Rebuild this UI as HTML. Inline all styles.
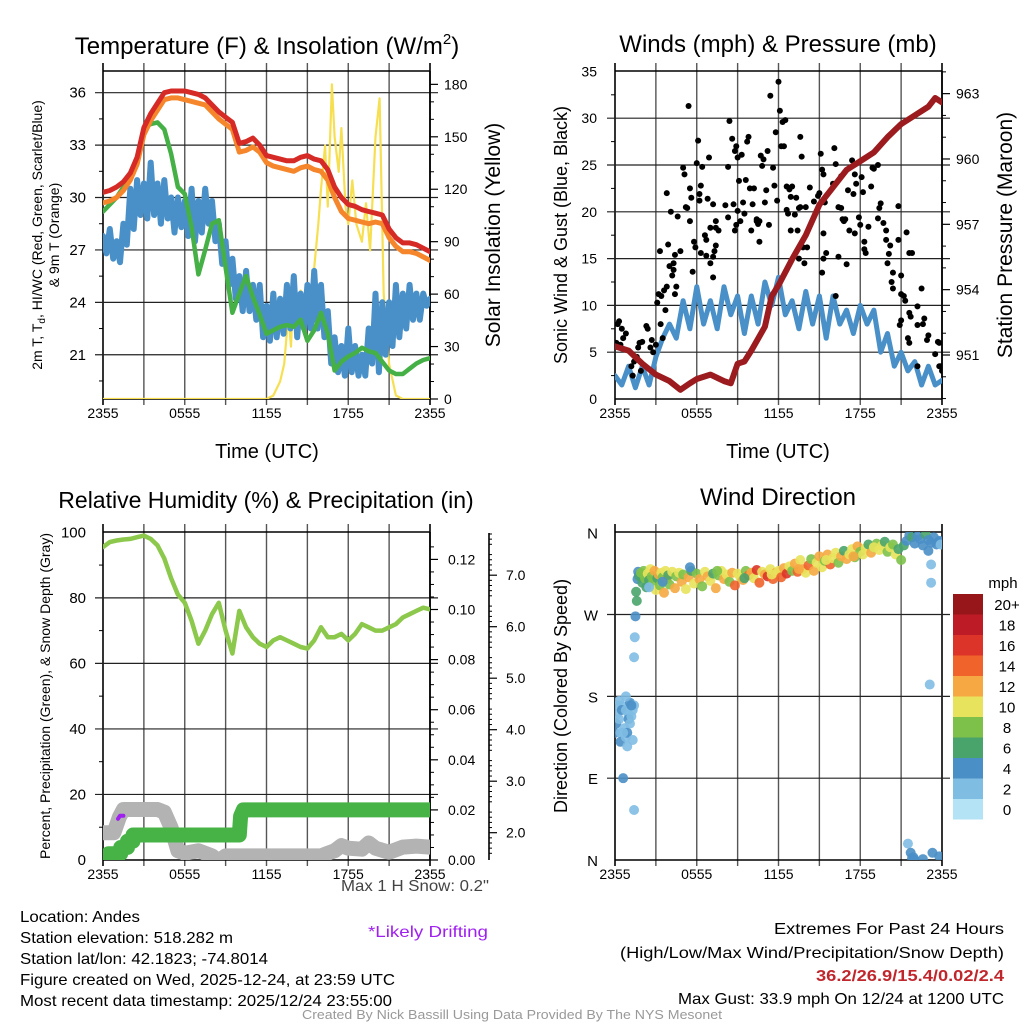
<!DOCTYPE html>
<html><head><meta charset="utf-8"><style>
html,body{margin:0;padding:0;background:#fff}
svg{display:block;font-family:"Liberation Sans",sans-serif}
</style></head><body>
<svg id="fig" xmlns="http://www.w3.org/2000/svg" width="1024" height="1024" viewBox="0 0 1024 1024">
<defs>
<clipPath id="c1"><rect x="103" y="71" width="327" height="328"/></clipPath>
<clipPath id="c2"><rect x="615" y="71" width="327" height="328"/></clipPath>
<clipPath id="c3"><rect x="103" y="532" width="327" height="328"/></clipPath>
<clipPath id="c4"><rect x="615" y="532" width="327" height="328"/></clipPath>
</defs>
<g id="layer"></g>
<g font-size="24" fill="#000" text-anchor="middle">
<text x="267" y="54">Temperature (F) &amp; Insolation (W/m<tspan font-size="15" dy="-10">2</tspan><tspan dy="10">)</tspan></text>
<text x="778" y="52">Winds (mph) &amp; Pressure (mb)</text>
<text x="266" y="508" font-size="23">Relative Humidity (%) &amp; Precipitation (in)</text>
<text x="778" y="505">Wind Direction</text>
</g>
<g font-size="20" text-anchor="middle">
<text x="267" y="458">Time (UTC)</text>
<text x="778" y="458">Time (UTC)</text>
<text font-size="14" transform="translate(42,235) rotate(-90)">2m T, T<tspan font-size="10" dy="3">d</tspan><tspan dy="-3">, HI/WC (Red, Green, Scarlet/Blue)</tspan></text>
<text font-size="14" transform="translate(59,235) rotate(-90)">&amp; 9m T (Orange)</text>
<text font-size="21" transform="translate(500,235) rotate(-90)">Solar Insolation (Yellow)</text>
<text font-size="18" transform="translate(567,235) rotate(-90)">Sonic Wind &amp; Gust (Blue, Black)</text>
<text font-size="21" transform="translate(1012,235) rotate(-90)">Station Pressure (Maroon)</text>
<text font-size="14" transform="translate(50,696) rotate(-90)">Percent, Precipitation (Green), &amp; Snow Depth (Gray)</text>
<text font-size="18" transform="translate(567,696) rotate(-90)">Direction (Colored By Speed)</text>
</g>
<g font-size="16">
<text x="20" y="922" textLength="120" lengthAdjust="spacingAndGlyphs">Location: Andes</text>
<text x="20" y="943" textLength="213" lengthAdjust="spacingAndGlyphs">Station elevation: 518.282 m</text>
<text x="20" y="964" textLength="248" lengthAdjust="spacingAndGlyphs">Station lat/lon: 42.1823; -74.8014</text>
<text x="20" y="985" textLength="375" lengthAdjust="spacingAndGlyphs">Figure created on Wed, 2025-12-24, at 23:59 UTC</text>
<text x="20" y="1006" textLength="372" lengthAdjust="spacingAndGlyphs">Most recent data timestamp: 2025/12/24 23:55:00</text>
<text x="341" y="891" fill="#444" textLength="148" lengthAdjust="spacingAndGlyphs">Max 1 H Snow: 0.2"</text>
<text x="368" y="937" fill="#a020f0" textLength="120" lengthAdjust="spacingAndGlyphs">*Likely Drifting</text>
<text x="774" y="934" textLength="230" lengthAdjust="spacingAndGlyphs">Extremes For Past 24 Hours</text>
<text x="620" y="958" textLength="384" lengthAdjust="spacingAndGlyphs">(High/Low/Max Wind/Precipitation/Snow Depth)</text>
<text x="816" y="981" fill="#c0272d" font-weight="bold" textLength="188" lengthAdjust="spacingAndGlyphs">36.2/26.9/15.4/0.02/2.4</text>
<text x="678" y="1004" textLength="326" lengthAdjust="spacingAndGlyphs">Max Gust: 33.9 mph On 12/24 at 1200 UTC</text>
<text x="302" y="1019" font-size="13" fill="#999" textLength="420" lengthAdjust="spacingAndGlyphs">Created By Nick Bassill Using Data Provided By The NYS Mesonet</text>
</g>
</svg>
<script>
// ---------- data ----------
const xTickLabels = ["2355","0555","1155","1755","2355"];
const tHours = [0,0.5,1,1.5,2,2.5,3,3.5,4,4.5,5,5.5,6,6.5,7,7.5,8,8.5,9,9.5,10,10.5,11,11.5,12,12.5,13,13.5,14,14.5,15,15.5,16,16.5,17,17.5,18,18.5,19,19.5,20,20.5,21,21.5,22,22.5,23,23.5,24];
const qHours = [0,0.25,0.5,0.75,1,1.25,1.5,1.75,2,2.25,2.5,2.75,3,3.25,3.5,3.75,4,4.25,4.5,4.75,5,5.25,5.5,5.75,6,6.25,6.5,6.75,7,7.25,7.5,7.75,8,8.25,8.5,8.75,9,9.25,9.5,9.75,10,10.25,10.5,10.75,11,11.25,11.5,11.75,12,12.25,12.5,12.75,13,13.25,13.5,13.75,14,14.25,14.5,14.75,15,15.25,15.5,15.75,16,16.25,16.5,16.75,17,17.25,17.5,17.75,18,18.25,18.5,18.75,19,19.25,19.5,19.75,20,20.25,20.5,20.75,21,21.25,21.5,21.75,22,22.25,22.5,22.75,23,23.25,23.5,23.75,24];
const tempRed = [30.3,30.4,30.6,30.9,31.4,32.3,34.0,34.8,35.4,36.0,36.1,36.1,36.1,36.0,35.9,35.7,35.3,34.9,34.6,34.3,33.1,33.2,33.4,33.0,32.4,32.3,32.2,32.1,32.1,32.3,32.4,32.2,32.1,31.6,30.6,30.0,29.6,29.5,29.3,29.2,29.1,29.0,28.2,27.7,27.4,27.4,27.3,27.1,26.9];
const tempOrange = [29.7,29.8,30.0,30.4,31.0,31.9,33.6,34.4,35.0,35.6,35.7,35.7,35.6,35.5,35.4,35.3,34.9,34.5,34.2,33.9,32.6,32.7,32.9,32.6,32.0,31.8,31.7,31.6,31.5,31.7,31.8,31.6,31.5,31.0,30.0,29.2,28.8,28.7,28.6,28.5,28.6,28.5,27.7,27.2,26.9,26.9,26.8,26.6,26.4];
const tempGreen = [29.2,29.6,30.0,30.6,31.2,32.0,34.0,34.2,34.3,33.9,32.5,30.6,30.2,28.3,25.6,27.0,28.5,28.7,26.0,23.4,24.5,25.5,24.3,23.3,22.2,22.4,22.6,22.7,22.6,23.0,21.8,22.4,23.4,22.2,20.1,20.6,20.9,21.1,21.4,21.2,21.1,20.6,20.1,19.9,19.9,20.2,20.5,20.7,20.8];
const tempBlue = [27.8,26.8,28.2,26.5,27.5,26.3,28.5,27.3,30.5,28.2,31.0,29.0,30.8,28.8,32.0,29.0,30.8,28.5,31.0,28.8,30.0,28.0,30.0,28.3,29.8,27.8,30.5,27.5,29.8,28.0,30.5,28.5,29.8,27.5,28.5,26.2,27.5,25.0,26.5,24.2,25.5,23.5,25.8,23.5,25.0,23.0,25.0,22.0,23.8,21.8,24.5,22.0,24.2,22.2,25.0,22.5,25.5,22.0,24.5,22.5,25.0,22.5,25.8,22.5,25.0,22.0,23.5,20.5,22.0,20.0,21.5,19.8,22.5,20.0,21.5,19.8,21.0,19.8,22.5,20.5,24.5,20.0,24.0,21.0,24.0,21.5,25.0,22.0,24.5,22.5,25.0,23.0,24.5,23.0,24.5,23.8,24.2];
const solarHours = [0,12,12.5,13,13.3,13.6,13.8,14,14.3,14.5,15,15.3,15.5,15.8,16,16.3,16.5,16.8,17,17.3,17.5,17.8,18,18.3,18.6,19,19.3,19.6,20,20.3,20.6,21,21.5,22,24];
const solarWm2 = [0,0,2,10,20,48,30,70,55,62,52,40,75,100,120,145,110,180,150,130,155,110,100,125,100,90,112,85,150,172,60,20,2,0,0];
const windMean = [2.5,1.5,3.5,1.2,3.5,1.5,4.5,6.5,8,6.5,10.5,7.5,12,8,10.5,7.5,12,9,11,7,11,8,12.5,10,13,9,10.5,7.5,11.5,8,11,6.5,11,8,9.5,7,10,8,9.5,5,7,3.5,5,3,4,1.5,3.5,1.5,2];
const pressHours = [0,1,2,3,4,4.8,5.5,6,7,8,8.5,9,9.5,10,11,11.5,12,13,14,15,16,17,18,19,20,21,22,23,23.5,24];
const pressMb = [951.4,951.2,950.6,950.1,949.8,949.4,949.7,949.9,950.1,949.8,949.7,950.6,950.7,951.2,952.3,953.7,954.2,955.4,956.5,957.9,958.7,959.5,959.9,960.3,961.0,961.6,962.0,962.4,962.8,962.6];
const gustHours = [0.1,0.2,0.3,0.5,0.6,0.8,0.4,1.2,1.4,1.3,1.6,1.8,2.0,1.9,1.7,2.3,2.4,2.6,2.7,2.8,3.0,3.1,3.2,3.3,3.4,3.35,3.5,3.6,3.7,3.8,4.0,3.9,4.2,3.8,4.1,4.3,4.4,4.5,4.3,4.4,4.6,5.0,5.1,5.2,4.8,5.4,5.5,5.6,5.5,5.9,5.3,5.7,5.8,6.0,6.1,6.2,6.3,6.3,6.2,6.4,6.9,6.6,6.8,6.7,7.4,7.2,7.0,7.0,6.7,7.2,7.4,7.2,7.3,7.4,7.6,8.1,8.4,8.6,8.3,8.8,8.8,8.7,8.3,8.9,9.0,9.1,9.3,8.9,9.0,9.2,9.4,9.6,9.7,9.8,9.5,9.9,10.0,10.1,10.2,10.4,10.7,10.8,10.5,10.6,10.4,10.6,10.9,11.0,11.1,11.2,11.4,11.3,11.8,11.9,11.6,11.7,12.0,12.1,12.3,12.5,12.4,12.6,12.6,12.2,12.8,12.9,12.7,13.0,12.9,13.6,13.7,13.3,13.2,13.5,13.6,13.5,13.9,13.8,13.4,14.0,14.1,14.3,14.6,15.1,15.2,15.3,15.4,15.0,15.3,15.3,15.5,15.2,16.1,16.2,16.0,16.4,14.9,16.2,16.4,16.6,16.8,16.9,16.6,17.4,17.1,16.7,17.2,17.6,17.0,17.5,17.7,17.6,18.1,18.2,17.9,18.0,18.3,18.4,18.8,18.9,18.6,18.3,19.0,19.3,19.4,19.5,19.3,19.7,19.9,19.9,20.0,20.1,20.2,20.4,20.3,20.4,20.8,20.8,21.0,21.3,20.9,21.0,21.0,21.4,21.6,21.8,21.2,21.6,21.7,21.5,21.6,22.2,22.2,22.5,22.6,22.2,22.7,23.0,22.9,23.5,23.8,24.0,23.7,23.9,23.8];
const gustMph = [6,8,8.3,7.5,6.5,7,5.8,3.5,4,2.5,4.5,6,6.1,3,5.5,7.8,7.5,5.5,6.3,5,5.8,10.3,11.2,15.8,11,8,6.5,11.6,9.5,12,14.2,16.5,13.2,22,20,14.5,15.4,12,13.8,11.2,19.5,24.7,24,20.5,15.8,31.3,22.5,21.5,19,16.2,20.4,13.6,16.8,25.2,27.6,21.2,15.6,22.8,21.9,24.8,25.8,17.5,21.4,15.3,19,20.8,18.3,14.5,17,15.2,18.3,13,15.8,16.4,18,20.7,29.7,27.8,24.8,26.5,18,20.8,19.4,27,25.8,23.3,26.1,18.6,20.1,19,21,23.4,27.5,28,19.8,22.5,18,20.8,22.5,19,26,24.9,18.7,16.8,19.2,19,25.6,21,22.3,26.5,32.4,18.6,28.5,21.2,24.7,22.8,33.9,30.8,29.6,29.8,27,22.7,20.2,27,22.4,21.6,19.8,22.7,18,28,25.9,21.5,19.7,20.4,20.5,15,14.5,16.2,18,20.5,16.2,22.6,21.1,26.2,24.5,24,21,22,17.7,15,15.6,13.5,26.8,25.1,23,20.5,21.7,11,15.2,20.4,19,19.2,23.8,25.5,22.3,19.2,18,24,14.4,21.9,23,17.7,23.7,22.1,19.4,18.6,16,15.6,22.7,24.7,18.4,16.8,24.6,25,20.4,20.9,19.3,18.8,18,17,14.5,15.5,16.4,13.5,12.5,11.8,20.6,17,13.2,10.5,7.9,8.4,11.2,17.8,15.6,15.6,11,9.2,8.8,6.5,6,3.5,9.9,11.8,8,7.9,8.6,6.8,6.3,4.8,3.5,3,6.1,3.5,6];
const rhPct = [95.5,97,97.5,97.8,98,98.5,99,98,96,92,86,81,78.5,73,66,70,75,78.5,70,63,76,71,68,66,65,67,68,67,66,65,64.5,67,71,68,68,69,67,69,72,71,70,70,71,72,74,75,76,77,76.5];
const precipHours = [0,0.4,0.4,1.3,1.3,1.8,1.8,2.2,2.2,10.0,10.1,10.3,24];
const precipIn = [0,0,0.0025,0.0025,0.005,0.005,0.0075,0.0075,0.01,0.01,0.0175,0.02,0.02];
const snowHours = [0,0.8,1.2,1.5,2,3,4,4.5,5,5.5,6,7,8,8.5,9,10,12,14,16,16.5,17,17.5,18,19,19.5,20,21,22,23,24];
const snowIn = [2.0,2.0,2.3,2.45,2.45,2.45,2.45,2.4,2.1,1.65,1.6,1.65,1.55,1.45,1.55,1.55,1.55,1.55,1.55,1.6,1.65,1.75,1.7,1.68,1.8,1.7,1.62,1.72,1.74,1.72];
const driftHours = [1.1,1.25,1.5];
const driftIn = [2.27,2.33,2.33];
const dirHours = [0.0,0.1,0.1,0.2,0.3,0.3,0.4,0.4,0.5,0.5,0.6,0.7,0.8,0.9,0.9,1.0,0.8,1.0,1.1,1.2,1.3,1.4,1.3,1.4,0.8,1.1,1.2,0.6,1.4,1.45,1.5,1.55,1.6,1.65,1.7,1.75,
 1.8,1.9,2.0,2.1,2.2,2.3,2.4,2.5,2.6,2.7,2.8,2.9,3.0,3.1,3.2,3.3,3.4,3.5,3.6,3.7,3.8,3.9,4.0,4.2,4.4,4.5,4.7,4.9,5.0,5.2,5.4,5.6,5.8,6.0,6.2,6.4,6.6,6.8,7.0,7.2,7.4,7.6,7.8,8.0,8.2,8.4,8.6,8.8,9.0,9.2,9.4,9.6,9.8,10.0,10.2,10.4,10.6,10.8,11.0,11.2,11.4,11.6,11.8,12.0,12.2,12.4,12.6,12.8,13.0,13.2,13.4,13.6,13.8,14.0,14.2,14.4,14.6,14.8,15.0,15.2,15.4,15.6,15.8,16.0,16.2,16.4,16.6,16.8,17.0,17.2,17.4,17.6,17.8,18.0,18.2,18.4,18.6,18.8,19.0,19.2,19.4,19.6,19.8,20.0,20.2,20.4,20.6,20.8,21.0,21.2,21.4,21.6,21.8,22.0,22.2,22.4,22.6,22.8,23.0,23.2,23.4,23.6,23.8,
 21.5,21.7,21.8,21.9,22.0,22.6,23.3,23.8,23.0,23.2,23.2,23.1,23.8,23.9,2.5,3.5,5.5,7.5,9.5,11.5,13.5,15.5,17.5,19.0];
const dirDeg = [140,160,150,170,175,155,140,130,170,165,90,145,135,140,125,160,165,155,173,158,165,170,132,55,180,150,170,140,223,245,268,295,285,309,317,313,
 312,316,305,318,310,300,315,308,320,312,306,318,297,310,314,302,316,311,294,318,309,313,303,317,299,312,316,306,314,298,311,318,304,315,309,301,317,312,307,315,299,313,318,309,314,306,316,302,315,311,308,318,313,316,310,319,305,317,314,312,320,309,316,318,311,321,315,323,318,326,317,330,320,316,324,331,318,327,334,322,329,336,325,332,338,327,334,340,331,336,342,333,345,339,336,343,347,338,344,348,341,346,350,339,344,347,336,342,330,346,351,357,355,348,356,353,346,358,352,349,355,347,351,
 18,8,2,3,0,1,8,4,340,325,305,193,350,347,300,306,322,318,310,314,320,330,334,344];
const dirMph = [3,2,3,2,2,2,2,4,2,3,3,2,2,3,1,2,2,3,4,2,2,2,2,1,1,2,3,2,2,2,4,6,6,4,4,4,
 5,7,6,8,7,5,9,6,10,7,8,11,9,6,12,8,10,7,12,9,11,6,8,10,12,7,9,11,8,10,12,6,9,7,11,8,10,12,9,6,11,8,10,12,9,7,11,13,10,9,12,8,14,11,10,15,13,9,12,16,10,14,11,9,13,12,15,10,8,11,13,9,12,10,14,8,11,10,12,9,7,11,13,9,10,8,12,6,11,9,10,8,12,7,9,10,6,11,8,7,10,9,6,8,9,7,10,5,8,6,4,4,5,4,3,4,4,5,3,4,4,3,4,2,4,3,
 3,4,4,4,4,4,2,1,1,3,2,2,3,3,8,6,10,12,9,11,10,13,8,9];
const legendLabels = ["20+","18","16","14","12","10","8","6","4","2","0"];
const speedColors = ["#b3e3f5","#80bde3","#4a8fc6","#49a46c","#7dc14a","#e8e35c","#f6a843","#f0642c","#dc3428","#bd1c26","#961619"];

// ---------- helpers ----------
const NS = "http://www.w3.org/2000/svg";
const layer = document.getElementById("layer");
function mk(tag, attrs, parent){
  const e = document.createElementNS(NS, tag);
  for (const k in attrs) e.setAttribute(k, attrs[k]);
  (parent || layer).appendChild(e);
  return e;
}
const X0L = 103, X0R = 615, PW = 327;
function xL(h){ return X0L + h / 24 * PW; }
function xR(h){ return X0R + h / 24 * PW; }
const yTemp = v => 92.7 + (36 - v) * 17.47;
const ySolar = w => 399 - w * 1.748;
const yWind = v => 399 - v * 9.36;
const yPress = p => 355 - (p - 951) * 21.78;
const yRH = v => 860 - v * 3.277;
const yPrecip = v => 860 - v * 2505;
const ySnow = s => 832.7 - (s - 2) * 51.5;
const yDir = d => 860 - d / 360 * 327.3;

function grid(x0, y0, ys, name){
  const g = mk("g", {});
  
  
  for (let i = 0; i <= 8; i++){
    const x = x0 + i * PW / 8;
    mk("line", {x1:x, y1:y0 - 8, x2:x, y2:y0 + 328 + 6, stroke: (i===0||i===8) ? "#000" : "#555", "stroke-width": (i===0||i===8) ? 1.6 : 1.4}, g);
  }
  ys.forEach(y => mk("line", {x1:x0 - 8, y1:y, x2:x0 + PW + 8, y2:y, stroke:"#222", "stroke-width":1.2}, g));
  mk("line", {x1:x0, y1:y0, x2:x0+PW, y2:y0, stroke:"#000", "stroke-width":1.4}, g);
  mk("line", {x1:x0, y1:y0+328, x2:x0+PW, y2:y0+328, stroke:"#000", "stroke-width":1.6}, g);
  xTickLabels.forEach((lab, i) => {
    const t = mk("text", {x: x0 + i * PW / 4, y: y0 + 347, "font-size": 14, "text-anchor": "middle"});
    
    
    t.textContent = lab;
  });
}
function label(x, y, txt, anchor, size){
  const t = mk("text", {x:x, y:y, "font-size": size || 15, "text-anchor": anchor});
  
  
  t.textContent = txt;
  return t;
}
function minorTicks(x, vals, fy, dir, len){
  vals.forEach(v => mk("line", {x1:x, y1:fy(v), x2:x + dir*len, y2:fy(v), stroke:"#000", "stroke-width":1}));
}
function path(hs, vs, fx, fy, color, w, clip, name){
  let d = "";
  hs.forEach((h, i) => { d += (i ? "L" : "M") + fx(h).toFixed(1) + "," + fy(vs[i]).toFixed(1); });
  const p = mk("path", {d:d, fill:"none", stroke:color, "stroke-width":w, "stroke-linejoin":"round", "stroke-linecap":"round", "clip-path":"url(#" + clip + ")"});
  
  
  return p;
}

// ---------- panel 1: temperature ----------
grid(X0L, 71, [21,24,27,30,33,36].map(yTemp), "temp");
[21,24,27,30,33,36].forEach(v => label(86, yTemp(v) + 5, String(v), "end"));
minorTicks(X0L, [19.5,22.5,25.5,28.5,31.5,34.5], yTemp, -1, 4);
mk("line", {x1:430, y1:71, x2:430, y2:399, stroke:"#000", "stroke-width":1.6});
[0,30,60,90,120,150,180].forEach(v => { mk("line",{x1:430,y1:ySolar(v),x2:438,y2:ySolar(v),stroke:"#000","stroke-width":1.2}); label(444, ySolar(v) + 5, String(v), "start", 14); });
minorTicks(430, [10,20,40,50,70,80,100,110,130,140,160,170], ySolar, 1, 4);
path(solarHours, solarWm2, xL, ySolar, "#f7df52", 2.2, "c1", "solar-insolation-line");
path(qHours, tempBlue, xL, yTemp, "#4a90c8", 6, "c1", "windchill-line");
path(tHours, tempGreen, xL, yTemp, "#45b045", 4.5, "c1", "dewpoint-line");
path(tHours, tempOrange, xL, yTemp, "#f5862c", 5, "c1", "temp-9m-line");
path(tHours, tempRed, xL, yTemp, "#d62a26", 5, "c1", "temp-2m-line");

// ---------- panel 2: winds ----------
grid(X0R, 71, [5,10,15,20,25,30].map(yWind), "wind");
[0,5,10,15,20,25,30,35].forEach(v => label(597, yWind(v) + 5, String(v), "end", 14));
minorTicks(X0R, [2.5,7.5,12.5,17.5,22.5,27.5,32.5], yWind, -1, 4);
mk("line", {x1:942, y1:71, x2:942, y2:399, stroke:"#000", "stroke-width":1.6});
[951,954,957,960,963].forEach(v => { mk("line",{x1:942,y1:yPress(v),x2:950,y2:yPress(v),stroke:"#000","stroke-width":1.2}); label(956, yPress(v) + 5, String(v), "start", 14); });
minorTicks(942, [949,950,952,953,955,956,958,959,961,962,964], yPress, 1, 4);
path(tHours, windMean, xR, yWind, "#4a90c8", 5, "c2", "sonic-wind-line");
gustHours.forEach((h, i) => {
  const c = mk("circle", {cx:xR(h), cy:yWind(gustMph[i]), r:3, fill:"#000", "clip-path":"url(#c2)"});
  
  
});
path(pressHours, pressMb, xR, yPress, "#9b1b1e", 6, "c2", "pressure-line");

// ---------- panel 3: RH ----------
grid(X0L, 532, [20,40,60,80].map(yRH), "rh");
[0,20,40,60,80,100].forEach(v => label(86, yRH(v) + 5, String(v), "end"));
minorTicks(X0L, [10,30,50,70,90], yRH, -1, 4);
mk("line", {x1:430, y1:532, x2:430, y2:860, stroke:"#000", "stroke-width":1.6});
[0,0.02,0.04,0.06,0.08,0.10,0.12].forEach(v => { mk("line",{x1:430,y1:yPrecip(v),x2:438,y2:yPrecip(v),stroke:"#000","stroke-width":1.2}); label(448, yPrecip(v) + 5, v.toFixed(2), "start", 14); });
minorTicks(430, [0.005,0.01,0.015,0.025,0.03,0.035,0.045,0.05,0.055,0.065,0.07,0.075,0.085,0.09,0.095,0.105,0.11,0.115,0.125], yPrecip, 1, 4);
mk("line", {x1:489, y1:533, x2:489, y2:860, stroke:"#000", "stroke-width":1.6});
[2,3,4,5,6,7].forEach(v => { mk("line",{x1:489,y1:ySnow(v),x2:497,y2:ySnow(v),stroke:"#000","stroke-width":1.2}); label(506, ySnow(v) + 5, v.toFixed(1), "start", 14); });
const snowMinor = [];
for (let k = 15; k <= 78; k++){ if (k % 5) snowMinor.push(k / 10); }
minorTicks(489, snowMinor.filter(v => ySnow(v) >= 533 && ySnow(v) <= 860), ySnow, 1, 3);
path(snowHours, snowIn, xL, ySnow, "#b3b3b3", 15, "c3", "snow-depth-line");
path(driftHours, driftIn, xL, ySnow, "#a020f0", 4, "c3", "drifting-segment");
path(precipHours, precipIn, xL, yPrecip, "#47b347", 15, "c3", "precipitation-line");
path(tHours, rhPct, xL, yRH, "#8cc84b", 4.5, "c3", "relative-humidity-line");

// ---------- panel 4: direction ----------
grid(X0R, 532, [90,180,270].map(yDir), "direction");
["N","E","S","W","N"].forEach((lab, i) => label(598, yDir(i * 90) + 6, lab, "end", 15));
dirHours.forEach((h, i) => {
  const idx = Math.min(10, Math.max(0, Math.floor((dirMph[i] + 1) / 2)));
  const c = mk("circle", {cx:xR(h), cy:yDir(dirDeg[i]), r:5, fill:speedColors[idx], opacity:0.9, "clip-path":"url(#c4)"});
  
  
});
const lm = mk("text", {x:1003, y:588, "font-size":15, "text-anchor":"middle"});


lm.textContent = "mph";
legendLabels.forEach((lab, i) => {
  const r = mk("rect", {x:953, y:594 + i * 20.5, width:30, height:20.5, fill:speedColors[10 - i]});
  
  
  const t = mk("text", {x:1007, y:610 + i * 20.5, "font-size":15, "text-anchor":"middle"});
  
  
  t.textContent = lab;
});
</script>
</body></html>
